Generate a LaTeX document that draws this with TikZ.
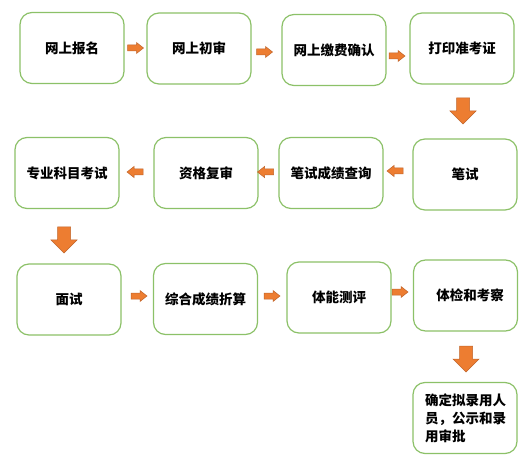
\documentclass[tikz,border=0pt]{standalone}
\usepackage{fontspec}
\setmainfont{Noto Sans CJK SC}
\definecolor{boxgreen}{HTML}{8CC168}
\definecolor{arrfill}{HTML}{ED7D31}
\definecolor{arrline}{HTML}{C0642A}
\tikzset{
  stepbox/.style={draw=boxgreen, line width=1.2bp, fill=white, rounded corners=12bp,
    minimum width=104bp, minimum height=71bp, inner sep=0pt,
    font=\fontsize{13.5bp}{16bp}\selectfont\bfseries},
  arrowstyle/.style={draw=arrline, line width=0.5bp, fill=arrfill, line join=miter},
  smallarr/.pic={\path[arrowstyle] (-8,-3) -- (1,-3) -- (1,-5.5) -- (8,0) -- (1,5.5) -- (1,3) -- (-8,3) -- cycle;},
  bigarr/.pic={\path[arrowstyle] (-13,-6.5) -- (0,-6.5) -- (0,-13) -- (13,0) -- (0,13) -- (0,6.5) -- (-13,6.5) -- cycle;},
}
\begin{document}
\begin{tikzpicture}[x=1bp, y=-1bp]
\useasboundingbox[fill=white] (0,0) rectangle (527,469);
% boxes
\node[stepbox] (b1) at (72,48) {网上报名};
\node[stepbox] (b2) at (199,48.5) {网上初审};
\node[stepbox] (b3) at (334,50) {网上缴费确认};
\node[stepbox] (b4) at (462,48.5) {打印准考证};
\node[stepbox] (b5) at (465,174.5) {笔试};
\node[stepbox] (b6) at (331,173) {笔试成绩查询};
\node[stepbox] (b7) at (206,173) {资格复审};
\node[stepbox] (b8) at (67,173) {专业科目考试};
\node[stepbox] (b9) at (69,299.5) {面试};
\node[stepbox] (b10) at (205.5,299) {综合成绩折算};
\node[stepbox] (b11) at (339,297.5) {体能测评};
\node[stepbox] (b12) at (465.5,295.5) {\hspace*{9bp}体检和考察};
\node[stepbox, align=left, font=\fontsize{13.5bp}{18bp}\selectfont\bfseries] (b13) at (465,418) {\hspace*{4bp}\raisebox{2bp}{\parbox{84bp}{确定拟录用人\\员，公示和录\\用审批}}};
% arrows
\pic (a1) at (135.5,48) {smallarr};
\pic (a2) at (264.5,52) {smallarr};
\pic (a3) at (397,56) {smallarr};
\pic[rotate=-90] (d1) at (463,111) {bigarr};
\pic[rotate=180] (a4) at (395,171) {smallarr};
\pic[rotate=180] (a5) at (265.5,172) {smallarr};
\pic[rotate=180] (a6) at (135,172) {smallarr};
\pic[rotate=-90] (d2) at (64,240) {bigarr};
\pic (a7) at (139,296) {smallarr};
\pic (a8) at (272,296) {smallarr};
\pic (a9) at (400,292) {smallarr};
\pic[rotate=-90] (d3) at (466,359) {bigarr};
\end{tikzpicture}
\end{document}
